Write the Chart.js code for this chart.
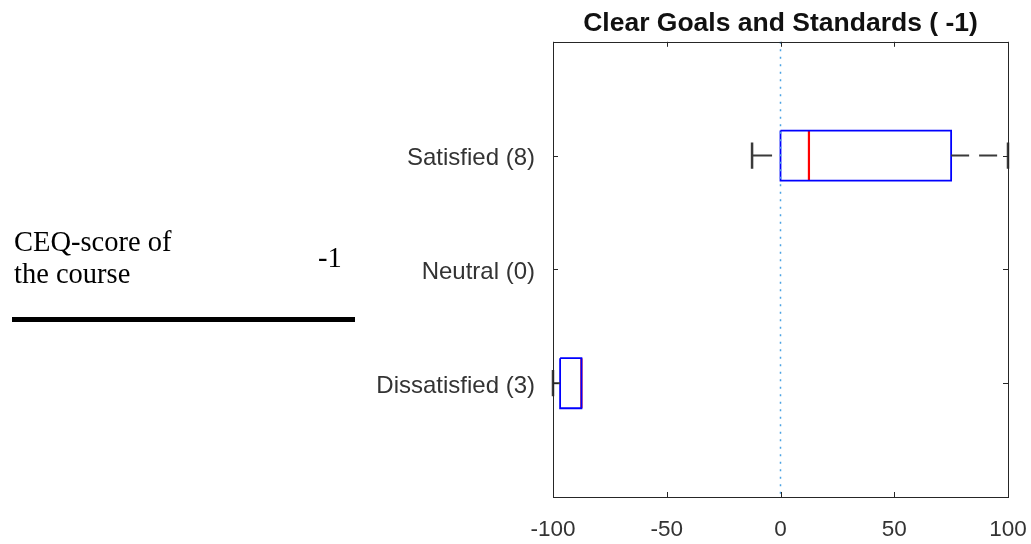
<!DOCTYPE html>
<html>
<head>
<meta charset="utf-8">
<script src="https://cdn.jsdelivr.net/npm/chart.js"></script>
<style>
  body { margin: 0; background: #fff; }
  #wrap { position: relative; width: 1031px; height: 544px; }
  canvas { position: absolute; left: 0; top: 0; }
  .side { position: absolute; font-family: 'Liberation Serif', 'Times New Roman', serif; font-size: 28.5px; color: #000; line-height: 32px; }
  #bar { position: absolute; left: 12px; top: 317px; width: 343px; height: 5px; background: #000; }
</style>
</head>
<body>
<div id="wrap">
  <canvas id="chart" width="1031" height="544"></canvas>
  <div class="side" style="left:14px; top:226px;">CEQ-score of<br>the course</div>
  <div class="side" style="left:318px; top:242px;">-1</div>
  <div id="bar"></div>
</div>
<script>
var categories = ['Satisfied (8)', 'Neutral (0)', 'Dissatisfied (3)'];
var whiskerLow = [-12.5, null, -100];
var quart1 = [0, null, -96.875];
var medians = [12.5, null, -87.5];
var quart3 = [75, null, -87.5];
var whiskerHigh = [100, null, -87.5];
var xTicks = [-100, -50, 0, 50, 100];
var titleText = 'Clear Goals and Standards ( -1)';

var boxHalf = 0.22;
var capHalf = 0.115;

function line (points, color, width, dash) {
  return {
    data: points,
    showLine: true,
    borderColor: color,
    borderWidth: width,
    borderDash: dash || [],
    pointRadius: 0,
    fill: false,
    tension: 0,
    clip: false
  };
}

var datasets = [];
// dotted reference line at zero
datasets.push(line([{ x: 0, y: 0 }, { x: 0, y: categories.length + 1 }], '#4ba3e3', 1.5, [2, 5.5]));

for (let i = 0; i < categories.length; i++) {
  if (medians[i] === null) continue;
  let y = i + 1;
  // whiskers + caps
  if (whiskerLow[i] < quart1[i]) {
    datasets.push(line([{ x: whiskerLow[i], y: y }, { x: quart1[i], y: y }], '#3a3a3a', 2, [20, 8]));
    datasets.push(line([{ x: whiskerLow[i], y: y - capHalf }, { x: whiskerLow[i], y: y + capHalf }], '#3a3a3a', 2.5));
  }
  if (whiskerHigh[i] > quart3[i]) {
    datasets.push(line([{ x: quart3[i], y: y }, { x: whiskerHigh[i], y: y }], '#3a3a3a', 2, [18, 10]));
    datasets.push(line([{ x: whiskerHigh[i], y: y - capHalf }, { x: whiskerHigh[i], y: y + capHalf }], '#3a3a3a', 2.5));
  }
  // box
  datasets.push(line([
    { x: quart1[i], y: y - boxHalf },
    { x: quart3[i], y: y - boxHalf },
    { x: quart3[i], y: y + boxHalf },
    { x: quart1[i], y: y + boxHalf },
    { x: quart1[i], y: y - boxHalf }
  ], '#0000ff', 1.8));
  // median
  datasets.push(line([{ x: medians[i], y: y - boxHalf }, { x: medians[i], y: y + boxHalf }], '#ff0000', 2.2));
}

var framePlugin = {
  id: 'frame',
  afterDraw: function (chart) {
    const ctx = chart.ctx;
    const a = chart.chartArea;
    const xs = chart.scales.x;
    const ys = chart.scales.y;
    ctx.save();
    ctx.strokeStyle = '#262626';
    ctx.lineWidth = 1;
    ctx.strokeRect(Math.round(a.left) + 0.5, Math.round(a.top) + 0.5, Math.round(a.right - a.left), Math.round(a.bottom - a.top));
    ctx.beginPath();
    for (let i = 0; i < xTicks.length; i++) {
      let px = Math.round(xs.getPixelForValue(xTicks[i])) + 0.5;
      ctx.moveTo(px, a.top); ctx.lineTo(px, a.top + 5);
      ctx.moveTo(px, a.bottom); ctx.lineTo(px, a.bottom - 5);
    }
    for (let i = 0; i < categories.length; i++) {
      let py = Math.round(ys.getPixelForValue(i + 1)) + 0.5;
      ctx.moveTo(a.left, py); ctx.lineTo(a.left + 5, py);
      ctx.moveTo(a.right, py); ctx.lineTo(a.right - 5, py);
    }
    ctx.stroke();
    ctx.restore();
  }
};

new Chart(document.getElementById('chart').getContext('2d'), {
  type: 'scatter',
  data: { datasets: datasets },
  plugins: [framePlugin],
  options: {
    responsive: false,
    animation: false,
    devicePixelRatio: 1,
    layout: { padding: { left: 0, right: 23, top: 0, bottom: 0 } },
    plugins: {
      legend: { display: false },
      tooltip: { enabled: false },
      title: {
        display: true,
        text: titleText,
        fullSize: false,
        color: '#111',
        font: { family: "'Liberation Sans', Arial, sans-serif", size: 26.5, weight: 'bold' },
        padding: { top: 8, bottom: 2 }
      }
    },
    scales: {
      x: {
        type: 'linear',
        min: -100,
        max: 100,
        afterBuildTicks: function (scale) {
          scale.ticks = xTicks.map(function (v) { return { value: v }; });
        },
        afterFit: function (scale) {
          scale.height = 47;
          scale.paddingLeft = 0;
          scale.paddingRight = 0;
        },
        grid: { display: false, drawTicks: false },
        border: { display: false },
        ticks: {
          color: '#333',
          padding: 19,
          maxRotation: 0,
          font: { family: "'Liberation Sans', Arial, sans-serif", size: 22.5 }
        }
      },
      y: {
        type: 'linear',
        min: 0,
        max: categories.length + 1,
        reverse: true,
        afterBuildTicks: function (scale) {
          scale.ticks = categories.map(function (c, i) { return { value: i + 1 }; });
        },
        afterFit: function (scale) {
          scale.width = 553;
          scale.paddingTop = 0;
          scale.paddingBottom = 0;
        },
        grid: { display: false, drawTicks: false },
        border: { display: false },
        ticks: {
          color: '#333',
          padding: 18,
          labelOffset: 3,
          callback: function (v) { return categories[v - 1] || ''; },
          font: { family: "'Liberation Sans', Arial, sans-serif", size: 24 }
        }
      }
    }
  }
});
</script>
</body>
</html>
